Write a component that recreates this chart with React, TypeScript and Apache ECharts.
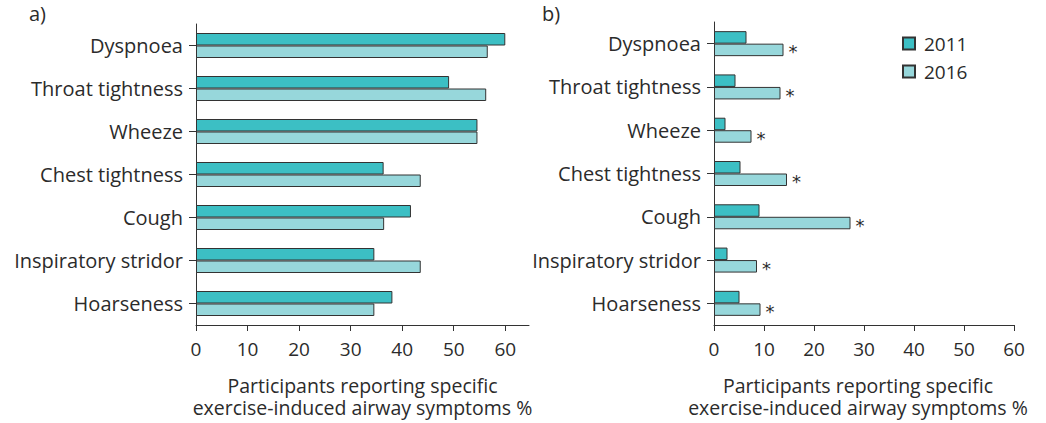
import React, { useEffect, useRef } from "react";
import * as echarts from "echarts";

const categories = [
  "Dyspnoea",
  "Throat tightness",
  "Wheeze",
  "Chest tightness",
  "Cough",
  "Inspiratory stridor",
  "Hoarseness",
];
const seriesNames = ["2011", "2016"];
const panelA2011 = [60.0, 49.1, 54.6, 36.4, 41.7, 34.6, 38.1];
const panelA2016 = [56.6, 56.3, 54.6, 43.6, 36.5, 43.6, 34.6];
const panelB2011 = [6.5, 4.3, 2.3, 5.3, 9.1, 2.7, 5.1];
const panelB2016 = [13.9, 13.3, 7.5, 14.6, 27.3, 8.6, 9.3];
const tickValues = [0, 10, 20, 30, 40, 50, 60];
const axisTitle = "Participants reporting specific\nexercise-induced airway symptoms %";
const panelLabels = ["a)", "b)"];

const FONT = "Open Sans";
const TEXT = "#2b2b2b";
const DARK = "#3cbfc4";
const LIGHT = "#97d7db";
const BORDER = "#333333";

export default function App() {
  const ref = useRef<HTMLDivElement>(null);
  useEffect(() => {
    if (!ref.current) return;
    const chart = echarts.init(ref.current, undefined, { renderer: "svg" });
    const nameStyle = (pad: number) => ({
      fontSize: 19.5,
      color: TEXT,
      fontFamily: FONT,
      lineHeight: 22,
      padding: [0, pad, 0, 0],
    });
    const xAxisBase = (max: number, gridIndex: number, pad: number) => ({
      type: "value" as const,
      gridIndex,
      min: 0,
      max,
      interval: 10,
      splitLine: { show: false },
      axisLine: { show: true, lineStyle: { color: BORDER, width: 1 } },
      axisTick: { show: true, length: 6, lineStyle: { color: BORDER }, customValues: tickValues },
      axisLabel: {
        fontSize: 19,
        color: TEXT,
        fontFamily: FONT,
        margin: 14,
        customValues: tickValues,
      },
      name: axisTitle,
      nameLocation: "middle" as const,
      nameGap: 49,
      nameTextStyle: nameStyle(pad),
    });
    const yAxisBase = (gridIndex: number) => ({
      type: "category" as const,
      gridIndex,
      data: categories,
      inverse: true,
      axisLine: { show: true, lineStyle: { color: BORDER, width: 1 } },
      axisTick: { show: true, alignWithLabel: true, length: 7, lineStyle: { color: BORDER } },
      axisLabel: { fontSize: 20, color: TEXT, fontFamily: FONT, margin: 13 },
    });
    const barBase = (name: string, color: string, xi: number, data: number[]) => ({
      type: "bar" as const,
      name,
      xAxisIndex: xi,
      yAxisIndex: xi,
      data,
      barWidth: 12.5,
      barGap: "0%",
      itemStyle: { color, borderColor: BORDER, borderWidth: 1 },
    });
    chart.setOption({
      animation: false,
      textStyle: { fontFamily: FONT },
      grid: [
        { left: 196, top: 24, width: 333, height: 303 },
        { left: 714, top: 22, width: 300, height: 303 },
      ],
      xAxis: [xAxisBase(64.6, 0, 0), xAxisBase(60, 1, 12)],
      yAxis: [yAxisBase(0), yAxisBase(1)],
      legend: {
        data: seriesNames,
        orient: "vertical",
        left: 897,
        top: 29,
        itemWidth: 12,
        itemHeight: 12,
        itemGap: 9,
        icon: "rect",
        textStyle: { fontSize: 19, color: TEXT, fontFamily: FONT, padding: [0, 0, 0, 4] },
      },
      graphic: [
        { type: "text", left: 29, top: 3, style: { text: panelLabels[0], fontSize: 20, fill: TEXT, fontFamily: FONT } },
        { type: "text", left: 542, top: 3, style: { text: panelLabels[1], fontSize: 20, fill: TEXT, fontFamily: FONT } },
      ],
      series: [
        barBase(seriesNames[0], DARK, 0, panelA2011),
        barBase(seriesNames[1], LIGHT, 0, panelA2016),
        barBase(seriesNames[0], DARK, 1, panelB2011),
        {
          ...barBase(seriesNames[1], LIGHT, 1, panelB2016),
          label: {
            show: true,
            position: "right",
            formatter: "*",
            distance: 5,
            fontSize: 18,
            color: TEXT,
            fontFamily: "DejaVu Sans",
            offset: [0, 2],
          },
        },
      ],
    });
    return () => chart.dispose();
  }, []);
  return (
    <div
      ref={ref}
      style={{ position: "fixed", left: 0, top: 0, width: 1046, height: 423, background: "#fff" }}
    />
  );
}
